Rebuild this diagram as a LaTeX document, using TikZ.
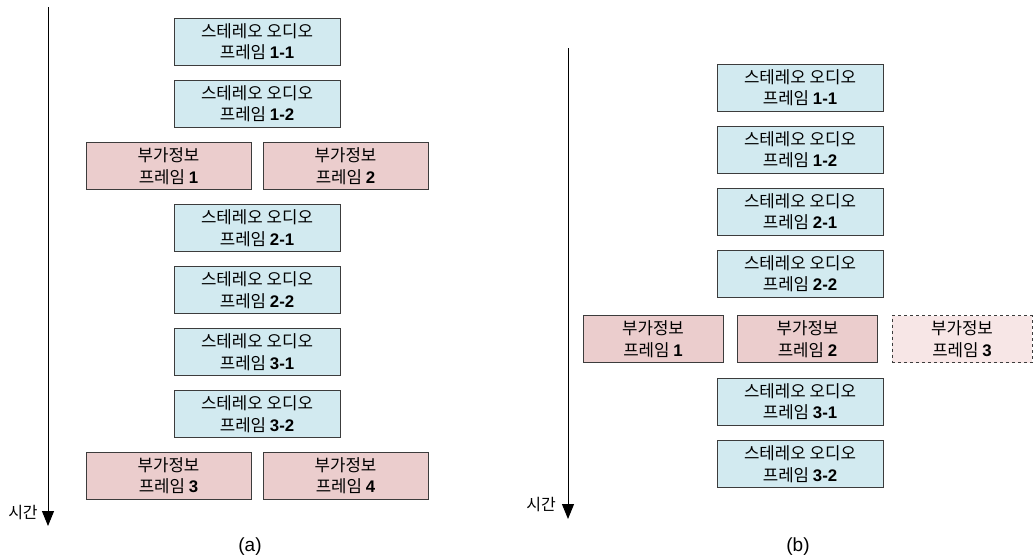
\documentclass[tikz,border=0pt]{standalone}
\usepackage{fontspec}
\setmainfont{Liberation Sans}
\newfontfamily\kr{Noto Sans CJK KR}
\usetikzlibrary{arrows.meta}
\definecolor{stereo}{RGB}{210,234,240}
\definecolor{extra}{RGB}{235,205,205}
\definecolor{extralight}{RGB}{247,230,230}
\definecolor{edge}{RGB}{60,60,60}
\newcommand\fnum[1]{{\rmfamily\bfseries #1}}
\begin{document}
\begin{tikzpicture}[x=1pt,y=-1pt,
  frame/.style={draw=edge, line width=0.9pt, minimum height=47pt, inner sep=0pt,
    align=center, font=\kr\fontsize{16.8}{21.5}\selectfont},
  stereobox/.style={frame, fill=stereo, minimum width=166pt},
  extrabox/.style={frame, fill=extra, minimum width=165pt},
  extraboxb/.style={frame, fill=extra, minimum width=140pt},
  futurebox/.style={frame, fill=extralight, dashed, minimum width=140pt},
  timeaxis/.style={line width=1pt, -{Triangle[width=12pt,length=15pt]}},
  timelabel/.style={font=\kr\fontsize{16}{18}\selectfont, inner sep=0pt},
  caption/.style={font=\fontsize{19}{22}\selectfont, inner sep=0pt}]
\useasboundingbox (0,0) rectangle (1033,557);
% ---------- (a) ----------
\coordinate (at) at (48,7);
\coordinate (ab) at (48,526);
\draw[timeaxis] (at) -- (ab);
\node[timelabel] (ta) at (23,513) {시간};
\node[stereobox] (a11) at (257,41.5) {스테레오 오디오\\프레임 \fnum{1-1}};
\node[stereobox] (a12) at (257,103.5) {스테레오 오디오\\프레임 \fnum{1-2}};
\node[extrabox] (ae1) at (168.5,166) {부가정보\\프레임 \fnum{1}};
\node[extrabox] (ae2) at (345.5,166) {부가정보\\프레임 \fnum{2}};
\node[stereobox] (a21) at (257,228) {스테레오 오디오\\프레임 \fnum{2-1}};
\node[stereobox] (a22) at (257,290) {스테레오 오디오\\프레임 \fnum{2-2}};
\node[stereobox] (a31) at (257,352) {스테레오 오디오\\프레임 \fnum{3-1}};
\node[stereobox] (a32) at (257,414) {스테레오 오디오\\프레임 \fnum{3-2}};
\node[extrabox] (ae3) at (168.5,475.5) {부가정보\\프레임 \fnum{3}};
\node[extrabox] (ae4) at (345.5,475.5) {부가정보\\프레임 \fnum{4}};
\node[caption] (capa) at (250,547) {(a)};
% ---------- (b) ----------
\coordinate (bt) at (568,48);
\coordinate (bb) at (568,519);
\draw[timeaxis] (bt) -- (bb);
\node[timelabel] (tb) at (541,505) {시간};
\node[stereobox] (b11) at (800,87.5) {스테레오 오디오\\프레임 \fnum{1-1}};
\node[stereobox] (b12) at (800,149.5) {스테레오 오디오\\프레임 \fnum{1-2}};
\node[stereobox] (b21) at (800,211.5) {스테레오 오디오\\프레임 \fnum{2-1}};
\node[stereobox] (b22) at (800,273.5) {스테레오 오디오\\프레임 \fnum{2-2}};
\node[extraboxb] (be1) at (653,339) {부가정보\\프레임 \fnum{1}};
\node[extraboxb] (be2) at (807.5,339) {부가정보\\프레임 \fnum{2}};
\node[futurebox] (be3) at (962,339) {부가정보\\프레임 \fnum{3}};
\node[stereobox] (b31) at (800,401.5) {스테레오 오디오\\프레임 \fnum{3-1}};
\node[stereobox] (b32) at (800,464) {스테레오 오디오\\프레임 \fnum{3-2}};
\node[caption] (capb) at (798,547) {(b)};
\end{tikzpicture}
\end{document}
